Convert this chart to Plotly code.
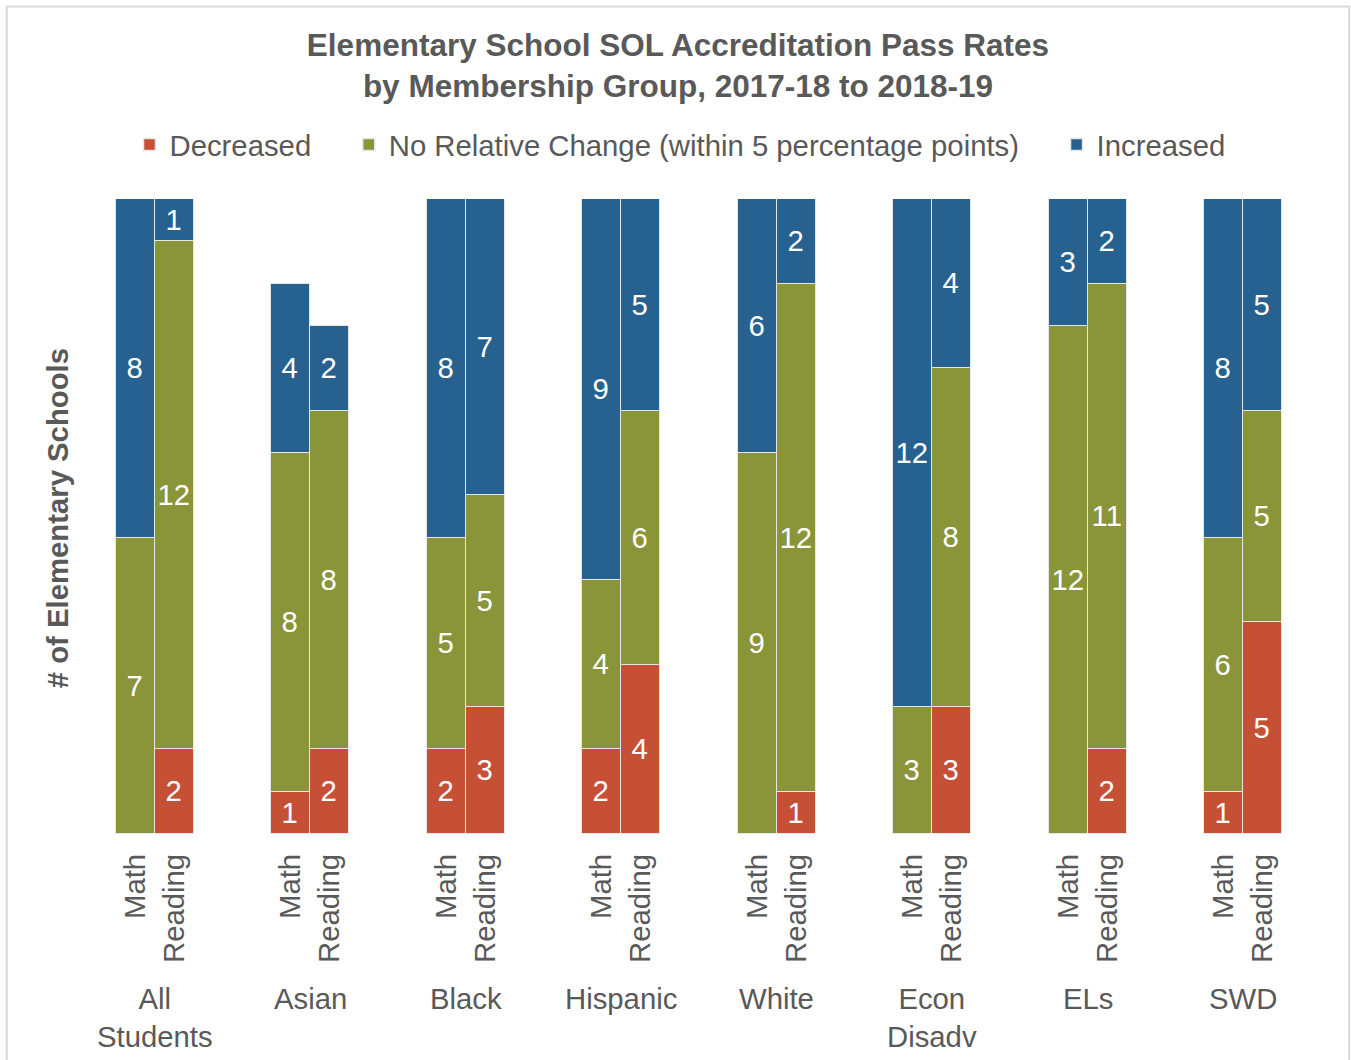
import plotly.graph_objects as go

groups = ["All<br>Students", "Asian", "Black", "Hispanic", "White", "Econ<br>Disadv", "ELs", "SWD"]
subjects = ["Math", "Reading"]

dec_math = [0, 1, 2, 2, 0, 0, 0, 1]
dec_read = [2, 2, 3, 4, 1, 3, 2, 5]
nc_math = [7, 8, 5, 4, 9, 3, 12, 6]
nc_read = [12, 8, 5, 6, 12, 8, 11, 5]
inc_math = [8, 4, 8, 9, 6, 12, 3, 8]
inc_read = [1, 2, 7, 5, 2, 4, 2, 5]

series_names = ["Decreased", "No Relative Change (within 5 percentage points)", "Increased"]
colors = ["#C65035", "#8A9438", "#276190"]

GRAY = "#595959"
FONT = "Arial, 'Liberation Sans', sans-serif"
FS = 29.3

xpos = []
ticktext = []
for i in range(len(groups)):
    xpos += [i - 0.125, i + 0.125]
    ticktext += subjects


def interleave(a, b):
    out = []
    for m, r in zip(a, b):
        out += [m, r]
    return out


series_vals = [interleave(dec_math, dec_read), interleave(nc_math, nc_read), interleave(inc_math, inc_read)]
pad = "\u00a0" * 4
fig = go.Figure()
for name, vals, col, k in zip(series_names, series_vals, colors, range(3)):
    fig.add_trace(go.Bar(
        x=xpos, y=vals, width=0.25, name=name + (pad if k < 2 else ""),
        marker=dict(color=col, line=dict(color="#E6E6E6", width=1.5)),
        text=[str(v) if v else "" for v in vals],
        textposition="inside", insidetextanchor="middle", textangle=0,
        constraintext="none",
        textfont=dict(color="white", size=FS, family=FONT),
        hoverinfo="skip",
    ))

L, R = 76.75, 1320.75
T, B = 199, 834
W, H = 1351, 1060
pw = R - L
ph = B - T

annotations = []
for i, g in enumerate(groups):
    annotations.append(dict(x=i, y=-(980 - B) / ph, xref="x", yref="paper", text=g,
                            showarrow=False, xanchor="center", yanchor="top",
                            font=dict(size=FS, color=GRAY, family=FONT)))
annotations.append(dict(x=(57 - L) / pw, y=(B - 518) / ph, xref="paper", yref="paper",
                        text="<b># of Elementary Schools</b>", textangle=-90, showarrow=False,
                        xanchor="center", yanchor="middle",
                        font=dict(size=FS, color=GRAY, family=FONT)))

fig.update_layout(
    width=W, height=H,
    margin=dict(l=L, r=W - R, t=T, b=H - B, autoexpand=False),
    paper_bgcolor="white", plot_bgcolor="white",
    barmode="stack", bargap=0,
    font=dict(family=FONT, color=GRAY),
    title=dict(text="<b>Elementary School SOL Accreditation Pass Rates<br>by Membership Group, 2017-18 to 2018-19</b>",
               x=678 / W, xanchor="center", y=1 - 56 / H, yanchor="middle", yref="container",
               font=dict(size=31.5, color=GRAY, family=FONT)),
    legend=dict(orientation="h", x=680 / W, xanchor="center", xref="container",
                y=1 - 145 / H, yanchor="middle", yref="container",
                traceorder="normal", font=dict(size=FS, color=GRAY, family=FONT),
                itemclick=False),
    xaxis=dict(range=[-0.5, 7.5], tickvals=xpos, ticktext=ticktext, tickangle=-90,
               showgrid=False, zeroline=False, showline=False, ticks="",
               ticklabelstandoff=13,
               tickfont=dict(size=FS, color=GRAY, family=FONT)),
    yaxis=dict(range=[0, 15], showgrid=False, zeroline=False, showline=False,
               showticklabels=False, ticks=""),
    annotations=annotations,
    shapes=[dict(type="rect", xref="paper", yref="paper",
                 x0=(6.5 - L) / pw, x1=(1349 - L) / pw,
                 y0=(B - 1075) / ph, y1=(B - 6.5) / ph,
                 line=dict(color="#D9D9D9", width=2), fillcolor="rgba(0,0,0,0)", layer="below")],
)

fig.write_html("out.html")
